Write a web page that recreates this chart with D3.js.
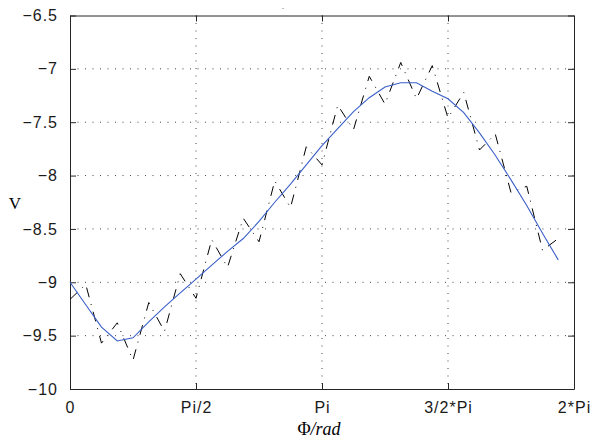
<!DOCTYPE html>
<html>
<head>
<meta charset="utf-8">
<script src="https://cdn.jsdelivr.net/npm/d3@7"></script>
<style>
  body { margin: 0; background: #fff; }
  text { font-family: "Liberation Sans", Arial, sans-serif; }
</style>
</head>
<body>
<div id="chart-area"></div>
<script>
// measured values, 32 samples over [0, 2*Pi)
var measured = [-9.16, -9.02, -9.57, -9.38, -9.73, -9.19, -9.46, -8.92,
                -9.15, -8.60, -8.86, -8.40, -8.62, -8.05, -8.30, -7.73,
                -7.90, -7.34, -7.57, -7.07, -7.33, -6.94, -7.28, -6.97,
                -7.46, -7.22, -7.76, -7.61, -8.16, -8.10, -8.70, -8.59];

// smoothed curve
var smooth = [-9.00, -9.21, -9.42, -9.55, -9.52, -9.37, -9.23, -9.10,
              -8.97, -8.84, -8.71, -8.59, -8.43, -8.25, -8.08, -7.90,
              -7.72, -7.56, -7.40, -7.27, -7.17, -7.13, -7.13, -7.21,
              -7.28, -7.41, -7.60, -7.81, -8.04, -8.28, -8.54, -8.79];

var xTickValues = [0, Math.PI / 2, Math.PI, 3 * Math.PI / 2, 2 * Math.PI];
var xTickLabels = ["0", "Pi/2", "Pi", "3/2*Pi", "2*Pi"];
var yTickValues = [-10, -9.5, -9, -8.5, -8, -7.5, -7, -6.5];

var margin = { left: 70, top: 15.5 };
var width = 504, height = 373.5;

var svg = d3.select("#chart-area").append("svg")
    .attr("width", 592)
    .attr("height", 441);

var g = svg.append("g")
    .attr("transform", `translate(${margin.left},${margin.top})`);

var x = d3.scaleLinear()
    .domain([0, 2 * Math.PI])
    .range([0, width]);

var y = d3.scaleLinear()
    .domain([-10, -6.5])
    .range([height, 0]);

var step = 2 * Math.PI / measured.length;
var phi = measured.map((d, i) => i * step);

// dotted grid
g.selectAll(".gx")
    .data(xTickValues.slice(1, -1))
    .enter()
    .append("line")
    .attr("x1", d => x(d)).attr("x2", d => x(d))
    .attr("y1", 0).attr("y2", height)
    .attr("stroke", "#444")
    .attr("stroke-width", 1)
    .attr("stroke-dasharray", "1,6.5");

g.selectAll(".gy")
    .data(yTickValues.slice(1, -1))
    .enter()
    .append("line")
    .attr("x1", 0).attr("x2", width)
    .attr("y1", d => y(d)).attr("y2", d => y(d))
    .attr("stroke", "#444")
    .attr("stroke-width", 1)
    .attr("stroke-dasharray", "1,6.5");

// axes with inward ticks
var xAxis = d3.axisBottom(x)
    .tickValues(xTickValues)
    .tickFormat((d, i) => xTickLabels[i])
    .tickSizeInner(-6)
    .tickSizeOuter(0)
    .tickPadding(13);

var yAxis = d3.axisLeft(y)
    .tickValues(yTickValues)
    .tickFormat(d => d3.format("")(d).replace("-", "\u2212"))
    .tickSizeInner(-6)
    .tickSizeOuter(0)
    .tickPadding(12);

var gx = g.append("g")
    .attr("transform", `translate(0,${height})`)
    .call(xAxis);

var gy = g.append("g").call(yAxis);

g.append("g")
    .call(d3.axisTop(x).tickValues(xTickValues).tickFormat("").tickSizeInner(-6).tickSizeOuter(0));

g.append("g")
    .attr("transform", `translate(${width},0)`)
    .call(d3.axisRight(y).tickValues(yTickValues).tickFormat("").tickSizeInner(-6).tickSizeOuter(0));

g.selectAll(".domain, .tick line")
    .attr("stroke", "#262626")
    .attr("stroke-width", 1);

g.selectAll(".tick text")
    .attr("font-size", "16px")
    .attr("letter-spacing", "1px")
    .attr("fill", "#1a1a1a");

// data lines
var line = d3.line()
    .x((d, i) => x(phi[i]))
    .y(d => y(d));

g.append("path")
    .datum(measured)
    .attr("fill", "none")
    .attr("stroke", "#000")
    .attr("stroke-width", 1)
    .attr("stroke-dasharray", "10,7,1,7")
    .attr("d", line);

g.append("path")
    .datum(smooth)
    .attr("fill", "none")
    .attr("stroke", "#3a5fc8")
    .attr("stroke-width", 1.1)
    .attr("d", line);

// labels (serif, like the LaTeX interpreter)
svg.append("text")
    .attr("x", 319)
    .attr("y", 435)
    .attr("text-anchor", "middle")
    .style("font-family", "'Liberation Serif', 'DejaVu Serif', serif")
    .attr("font-size", "18px")
    .html("\u03A6<tspan font-style='italic'>/rad</tspan>");

svg.append("text")
    .attr("x", 15)
    .attr("y", 209)
    .attr("text-anchor", "middle")
    .style("font-family", "'Liberation Serif', 'DejaVu Serif', serif")
    .attr("font-size", "17px")
    .text("V");

// tiny title
svg.append("text")
    .attr("x", 283)
    .attr("y", 10)
    .attr("text-anchor", "middle")
    .attr("font-size", "6px")
    .attr("fill", "#333")
    .text("-");
</script>
</body>
</html>
